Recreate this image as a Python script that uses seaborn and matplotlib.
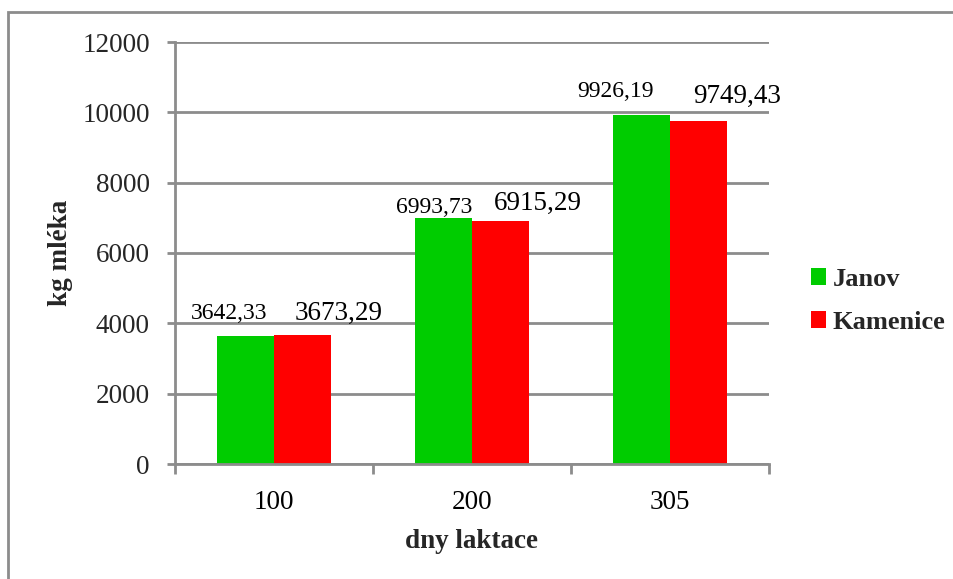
import matplotlib
matplotlib.use("Agg")
import matplotlib.pyplot as plt
import seaborn as sns
import pandas as pd
from matplotlib.patches import Rectangle
from matplotlib.ticker import FixedLocator, NullFormatter

categories = ["100", "200", "305"]
janov = [3642.33, 6993.73, 9926.19]
kamenice = [3673.29, 6915.29, 9749.43]
series_names = ["Janov", "Kamenice"]
yticks = [0, 2000, 4000, 6000, 8000, 10000, 12000]

df = pd.DataFrame({
    "dny": categories * 2,
    "kg": janov + kamenice,
    "farma": [series_names[0]] * 3 + [series_names[1]] * 3,
})

sns.set_theme(style="white")
plt.rcParams["font.family"] = ["Liberation Serif", "DejaVu Serif"]

W, H = 954, 579
fig = plt.figure(figsize=(W / 100, H / 100), dpi=100)
ax = fig.add_axes([175 / W, 1 - 464 / H, (769 - 175) / W, (464 - 42) / H])

palette = {"Janov": "#00CC00", "Kamenice": "#FF0000"}
sns.barplot(data=df, x="dny", y="kg", hue="farma", palette=palette,
            width=0.58, linewidth=0, saturation=1, ax=ax, legend=True)

ax.set_ylim(0, 12000)
ax.set_xlim(-0.5, 2.5)
ax.set_yticks(yticks)
ax.set_yticklabels([str(v) for v in yticks], fontsize=19.5)
ax.set_xticks(range(len(categories)))
ax.set_xticklabels(categories, fontsize=19.5)
ax.xaxis.set_minor_locator(FixedLocator([-0.5, 0.5, 1.5, 2.5]))
ax.xaxis.set_minor_formatter(NullFormatter())
grid_col = "#8c8c8c"
ax.tick_params(axis="x", which="major", length=0, pad=19, colors="black")
ax.tick_params(axis="x", which="minor", length=7, width=2, color=grid_col, direction="out", bottom=True)
ax.tick_params(axis="y", which="major", length=6, width=2, color=grid_col, direction="out", left=True, pad=12)
ax.yaxis.grid(True, color=grid_col, linewidth=2)
ax.set_axisbelow(True)
for s in ["top", "right"]:
    ax.spines[s].set_visible(False)
for s in ["left", "bottom"]:
    ax.spines[s].set_color(grid_col)
    ax.spines[s].set_linewidth(2)

ax.set_xlabel("dny laktace", fontsize=19.5, fontweight="bold", labelpad=10)
ax.set_ylabel("kg mléka", fontsize=19.5, fontweight="bold", labelpad=7)

# data labels
offsets_j = [(-16, 22), (-9, 11), (-26, 23)]
offsets_k = [(36, 21), (37, 17), (38, 25)]
for cont, vals, offs, fs in [(ax.containers[0], janov, offsets_j, 17),
                             (ax.containers[1], kamenice, offsets_k, 19.5)]:
    for bar, v, (dx, dy) in zip(cont, vals, offs):
        xc = bar.get_x() + bar.get_width() / 2
        ax.annotate(f"{v:.2f}".replace(".", ","), (xc, bar.get_height()),
                    xytext=(dx, dy), textcoords="offset pixels",
                    ha="center", va="center", fontsize=fs, color="black",
                    annotation_clip=False)

leg = ax.legend(loc="center left", bbox_to_anchor=(800 / W, 1 - 301 / H),
                bbox_transform=fig.transFigure, frameon=False,
                prop={"size": 19, "weight": "bold"},
                handlelength=0.6, handleheight=0.6, handletextpad=0.25,
                labelspacing=0.75, borderaxespad=0)

fig.patches.append(Rectangle((8 / W, -0.1), 1.2, 1.1 - 12 / H,
                             transform=fig.transFigure, fill=False,
                             edgecolor="#8c8c8c", linewidth=2))

fig.savefig("out.png", dpi=100)
